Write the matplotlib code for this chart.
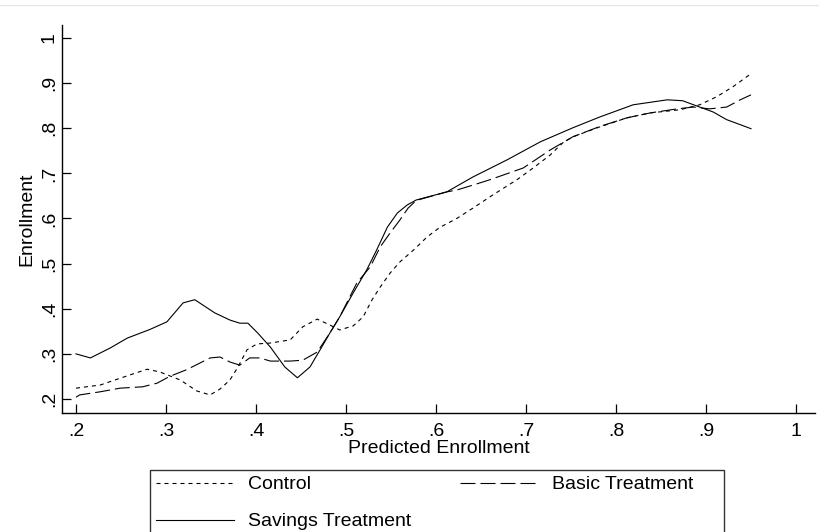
import matplotlib
matplotlib.use("Agg")
import matplotlib.pyplot as plt
from matplotlib.lines import Line2D
from matplotlib.patches import Rectangle

plt.rcParams['font.family'] = ['Liberation Sans', 'DejaVu Sans']

# control group (short dashes)
ctrl_x = [0.200, 0.227, 0.249, 0.279, 0.293, 0.316, 0.334, 0.349, 0.360, 0.371,
          0.380, 0.390, 0.401, 0.416, 0.438, 0.452, 0.468, 0.482, 0.493, 0.508,
          0.519, 0.529, 0.538, 0.549, 0.560, 0.575, 0.590, 0.604, 0.623, 0.641,
          0.663, 0.690, 0.708, 0.727, 0.741, 0.752, 0.782, 0.812, 0.838, 0.871,
          0.893, 0.912, 0.930, 0.950]
ctrl_y = [0.224, 0.231, 0.246, 0.266, 0.260, 0.242, 0.218, 0.209, 0.222, 0.242,
          0.271, 0.309, 0.322, 0.324, 0.331, 0.360, 0.377, 0.364, 0.353, 0.362,
          0.382, 0.420, 0.448, 0.479, 0.504, 0.530, 0.559, 0.580, 0.600, 0.623,
          0.652, 0.686, 0.712, 0.741, 0.768, 0.781, 0.803, 0.823, 0.834, 0.841,
          0.852, 0.870, 0.892, 0.921]

# basic treatment (long dashes)
basic_x = [0.200, 0.204, 0.227, 0.249, 0.274, 0.290, 0.304, 0.323, 0.338, 0.349,
           0.360, 0.371, 0.382, 0.393, 0.404, 0.416, 0.438, 0.452, 0.468, 0.482,
           0.493, 0.512, 0.527, 0.538, 0.549, 0.560, 0.569, 0.578, 0.612, 0.623,
           0.641, 0.660, 0.697, 0.727, 0.752, 0.782, 0.812, 0.838, 0.868, 0.886,
           0.904, 0.923, 0.938, 0.950]
basic_y = [0.204, 0.209, 0.216, 0.224, 0.227, 0.235, 0.250, 0.265, 0.280, 0.291,
           0.293, 0.282, 0.275, 0.291, 0.291, 0.284, 0.284, 0.286, 0.304, 0.346,
           0.382, 0.457, 0.493, 0.537, 0.568, 0.597, 0.623, 0.640, 0.659, 0.663,
           0.674, 0.686, 0.712, 0.752, 0.781, 0.804, 0.823, 0.834, 0.843, 0.847,
           0.843, 0.847, 0.863, 0.874]

# savings treatment (solid)
sav_x = [0.200, 0.216, 0.238, 0.257, 0.282, 0.301, 0.319, 0.332, 0.354, 0.371,
         0.382, 0.391, 0.402, 0.416, 0.432, 0.446, 0.460, 0.473, 0.482, 0.493,
         0.508, 0.523, 0.534, 0.546, 0.557, 0.568, 0.578, 0.612, 0.641, 0.679,
         0.716, 0.752, 0.782, 0.804, 0.819, 0.857, 0.874, 0.893, 0.908, 0.923,
         0.938, 0.950]
sav_y = [0.300, 0.291, 0.313, 0.335, 0.354, 0.371, 0.413, 0.420, 0.391, 0.375,
         0.368, 0.368, 0.346, 0.315, 0.271, 0.247, 0.271, 0.315, 0.346, 0.382,
         0.435, 0.486, 0.530, 0.581, 0.612, 0.630, 0.641, 0.659, 0.692, 0.730,
         0.770, 0.801, 0.825, 0.841, 0.852, 0.863, 0.861, 0.847, 0.836, 0.819,
         0.808, 0.799]

xticks = [0.2, 0.3, 0.4, 0.5, 0.6, 0.7, 0.8, 0.9, 1.0]
xlabels = ['.2', '.3', '.4', '.5', '.6', '.7', '.8', '.9', '1']
yticks = [0.2, 0.3, 0.4, 0.5, 0.6, 0.7, 0.8, 0.9, 1.0]
ylabels = ['.2', '.3', '.4', '.5', '.6', '.7', '.8', '.9', '1']

fig = plt.figure(figsize=(8.19, 5.32), dpi=100)
ax = fig.add_axes([62/819, 1 - 413/532, (815 - 62)/819, (413 - 25)/532])

lw = 0.8
ax.plot(ctrl_x, ctrl_y, color='black', lw=lw, dashes=(3.6, 3.6))
ax.plot(basic_x, basic_y, color='black', lw=lw, dashes=(13.5, 4.5))
ax.plot(sav_x, sav_y, color='black', lw=lw)

ax.set_xlim(0.2 - 14/900, 1.0 + 19/900)
ax.set_ylim(0.2 - 14/451, 1.0 + 13/451)
ax.set_xticks(xticks)
ax.set_xticklabels(xlabels)
ax.set_yticks(yticks)
ax.set_yticklabels(ylabels, rotation=90, va='center')
ax.tick_params(direction='in', length=6.5, width=0.9, labelsize=14)
ax.tick_params(axis='x', pad=7)
ax.tick_params(axis='y', pad=3)

for s in ['top', 'right']:
    ax.spines[s].set_visible(False)
for s in ['left', 'bottom']:
    ax.spines[s].set_linewidth(1.0)

ax.set_xlabel('Predicted Enrollment', fontsize=14, labelpad=0)
ax.set_ylabel('Enrollment', fontsize=14, labelpad=4)

# legend with a hand-drawn frame (box runs off the bottom edge)
# matplotlib fills columns first, so Savings goes second to land under Control
handles = [Line2D([], [], color='black', lw=lw, dashes=(3.6, 3.6)),
           Line2D([], [], color='black', lw=lw),
           Line2D([], [], color='black', lw=lw, dashes=(13.5, 4.5))]
names = ['Control', 'Savings Treatment', 'Basic Treatment']
fig.legend(handles, names, loc='upper left', bbox_to_anchor=(150/819, 1 - 470/532),
           ncol=2, frameon=False, fontsize=14, handlelength=4.0, handletextpad=0.75,
           columnspacing=2.5, labelspacing=1.0, borderpad=0.3, borderaxespad=0)
fig.patches.append(Rectangle((150/819, -0.05), 574/819, 0.05 + 1 - 470/532,
                             transform=fig.transFigure, fill=False,
                             edgecolor='#333333', lw=1.0))

fig.lines.append(Line2D([0, 1], [1 - 4.5/532, 1 - 4.5/532], transform=fig.transFigure,
                        color='#e6e6e6', lw=1))

fig.savefig('out.png', dpi=100)
